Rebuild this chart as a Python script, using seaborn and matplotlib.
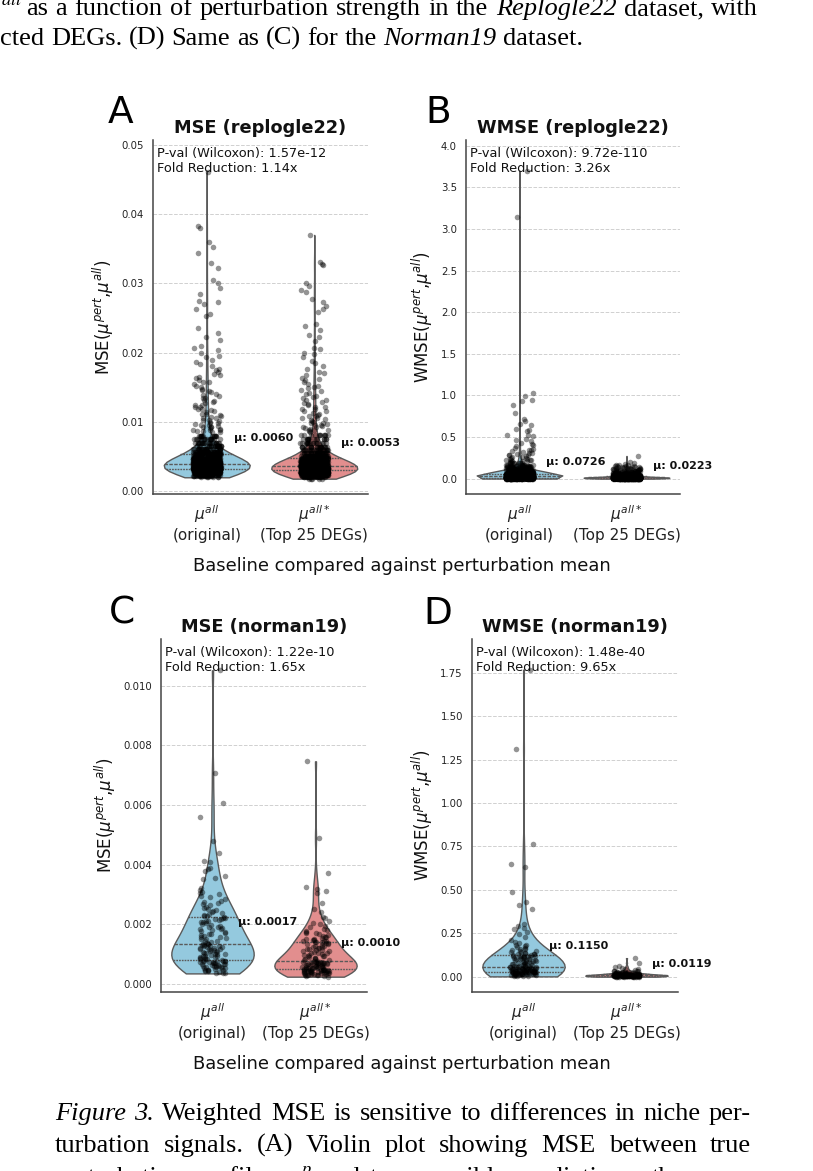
import numpy as np
import pandas as pd
import matplotlib
matplotlib.use("Agg")
import matplotlib.pyplot as plt
import seaborn as sns

W, H = 813, 1171

baselines = ["$\\mu^{all}$\n(original)", "$\\mu^{all*}$\n(Top 25 DEGs)"]
violin_colors = ["skyblue", "lightcoral"]

# replogle22 MSE: dense part read as value/count, sparse points one by one
mse_rep_orig_core = [0.0020, 0.0022, 0.0024, 0.0026, 0.0028, 0.0030, 0.0032, 0.0034, 0.0036, 0.0038,
                     0.0040, 0.0042, 0.0044, 0.0046, 0.0048, 0.0050, 0.0053, 0.0057, 0.0061, 0.0065,
                     0.0070, 0.0075, 0.0080]
mse_rep_orig_count = [6, 14, 28, 45, 62, 75, 80, 78, 72, 66, 58, 52, 46, 40, 35, 30, 40, 32, 26, 22, 20, 16, 13]
mse_rep_orig_tail = [
    0.0461, 0.0383, 0.0380, 0.0360, 0.0352, 0.0344, 0.0330, 0.0322, 0.0305, 0.0300,
    0.0293, 0.0285, 0.0275, 0.0273, 0.0270, 0.0263, 0.0256, 0.0253, 0.0235, 0.0228,
    0.0222, 0.0218, 0.0210, 0.0206, 0.0204, 0.0200, 0.0195, 0.0193, 0.0190, 0.0187,
    0.0183, 0.0181, 0.0177, 0.0175, 0.0172, 0.0169, 0.0168, 0.0165, 0.0163, 0.0161,
    0.0158, 0.0157, 0.0154, 0.0152, 0.0151, 0.0148, 0.0146, 0.0145, 0.0143, 0.0140,
    0.0139, 0.0137, 0.0135, 0.0134, 0.0131, 0.0130, 0.0128, 0.0127, 0.0125, 0.0124,
    0.0122, 0.0121, 0.0119, 0.0118, 0.0117, 0.0115, 0.0114, 0.0112, 0.0111, 0.0110,
    0.0108, 0.0107, 0.0106, 0.0105, 0.0103, 0.0102, 0.0101, 0.0100, 0.0099, 0.0098,
    0.0097, 0.0096, 0.0095, 0.0094, 0.0093, 0.0093, 0.0092, 0.0091, 0.0090, 0.0089,
    0.0089, 0.0088, 0.0087, 0.0087, 0.0086, 0.0085,
]
mse_rep_top_core = [0.0018, 0.0020, 0.0022, 0.0024, 0.0026, 0.0028, 0.0030, 0.0032, 0.0034, 0.0036,
                    0.0038, 0.0040, 0.0042, 0.0044, 0.0046, 0.0048, 0.0051, 0.0055, 0.0059, 0.0064,
                    0.0069, 0.0075, 0.0081]
mse_rep_top_count = [5, 14, 30, 50, 70, 82, 85, 80, 72, 64, 56, 48, 42, 36, 31, 27, 34, 28, 22, 20, 17, 14, 11]
mse_rep_top_tail = [
    0.0370, 0.0331, 0.0328, 0.0326, 0.0301, 0.0296, 0.0291, 0.0288, 0.0277, 0.0273,
    0.0268, 0.0263, 0.0258, 0.0242, 0.0238, 0.0232, 0.0225, 0.0222, 0.0217, 0.0206,
    0.0205, 0.0200, 0.0198, 0.0193, 0.0188, 0.0185, 0.0180, 0.0177, 0.0172, 0.0170,
    0.0167, 0.0164, 0.0162, 0.0160, 0.0157, 0.0155, 0.0152, 0.0150, 0.0149, 0.0146,
    0.0144, 0.0142, 0.0140, 0.0138, 0.0136, 0.0134, 0.0132, 0.0131, 0.0129, 0.0127,
    0.0126, 0.0124, 0.0122, 0.0121, 0.0119, 0.0118, 0.0116, 0.0115, 0.0113, 0.0112,
    0.0110, 0.0109, 0.0108, 0.0106, 0.0105, 0.0104, 0.0102, 0.0101, 0.0100, 0.0099,
    0.0098, 0.0097, 0.0096, 0.0095, 0.0094, 0.0093, 0.0092, 0.0091, 0.0090, 0.0089,
    0.0088, 0.0088, 0.0087, 0.0086,
]

# replogle22 WMSE
wmse_rep_orig_core = [0.002, 0.006, 0.010, 0.014, 0.018, 0.022, 0.027, 0.032, 0.038, 0.044, 0.050, 0.057,
                      0.064, 0.072, 0.080, 0.090, 0.100, 0.112, 0.125, 0.140, 0.155, 0.170, 0.185]
wmse_rep_orig_count = [40, 70, 90, 95, 92, 88, 82, 75, 68, 58, 50, 42, 36, 30, 26, 24, 20, 18, 15, 13, 11, 9, 8]
wmse_rep_orig_tail = [
    3.70, 3.14, 1.03, 0.99, 0.94, 0.93, 0.88, 0.79, 0.72, 0.69, 0.66, 0.64, 0.60, 0.59, 0.57,
    0.53, 0.52, 0.51, 0.48, 0.46, 0.45, 0.43, 0.42, 0.40, 0.39, 0.37, 0.36, 0.35, 0.34, 0.33,
    0.32, 0.31, 0.31, 0.30, 0.29, 0.28, 0.28, 0.27, 0.26, 0.26, 0.25, 0.25, 0.24, 0.24, 0.23,
    0.23, 0.22, 0.22, 0.215, 0.21, 0.21, 0.205, 0.20,
]
wmse_rep_top_core = [0.001, 0.004, 0.007, 0.010, 0.013, 0.016, 0.019, 0.023, 0.027, 0.032, 0.037,
                     0.043, 0.050, 0.058, 0.067, 0.077, 0.088, 0.100, 0.112, 0.125, 0.138]
wmse_rep_top_count = [60, 110, 130, 125, 110, 95, 80, 70, 58, 48, 40, 33, 27, 22, 17, 13, 10, 8, 6, 5, 4]
wmse_rep_top_tail = [0.273, 0.205, 0.19, 0.175, 0.17, 0.165, 0.16, 0.155, 0.152, 0.15, 0.148, 0.145, 0.142]

# norman19 MSE
mse_nor_orig = [
    0.00035, 0.00038, 0.00038, 0.00041, 0.00042, 0.00044, 0.00045, 0.00047, 0.00048, 0.00048,
    0.00050, 0.00052, 0.00053, 0.00053, 0.00055, 0.00056, 0.00058, 0.00059, 0.00060, 0.00061,
    0.00061, 0.00063, 0.00064, 0.00066, 0.00066, 0.00067, 0.00069, 0.00070, 0.00071, 0.00072,
    0.00072, 0.00074, 0.00075, 0.00076, 0.00076, 0.00077, 0.00077,
    0.00078, 0.00080, 0.00082, 0.00083, 0.00084, 0.00087, 0.00087, 0.00089, 0.00091, 0.00092,
    0.00094, 0.00095, 0.00096, 0.00099, 0.00099, 0.00101, 0.00103, 0.00105, 0.00106, 0.00107,
    0.00110, 0.00111, 0.00112, 0.00114, 0.00116, 0.00117, 0.00118, 0.00121, 0.00121, 0.00122,
    0.00124, 0.00126, 0.00127, 0.00128, 0.00130, 0.00131, 0.00132, 0.00133,
    0.00135, 0.00138, 0.00141, 0.00143, 0.00145, 0.00149, 0.00150, 0.00153, 0.00157, 0.00158,
    0.00161, 0.00164, 0.00166, 0.00168, 0.00171, 0.00175, 0.00177, 0.00179, 0.00183, 0.00184,
    0.00187, 0.00191, 0.00192, 0.00195, 0.00198, 0.00200, 0.00203, 0.00206, 0.00207, 0.00211,
    0.00212, 0.00214, 0.00217, 0.00218, 0.00220, 0.00222, 0.00224,
    0.00226, 0.00229, 0.00231, 0.00235, 0.00237, 0.00241, 0.00243, 0.00247, 0.00250, 0.00255,
    0.00258, 0.00263, 0.00266, 0.00271, 0.00275, 0.00279, 0.00286, 0.00290, 0.00296, 0.00300,
    0.00303, 0.00308, 0.00316, 0.00322, 0.00350, 0.00356, 0.00362, 0.00378, 0.00385, 0.00390,
    0.00408, 0.00412, 0.00438, 0.00480, 0.00560, 0.00605, 0.00708, 0.01051,
]
mse_nor_top = [
    0.00024, 0.00026, 0.00027, 0.00028, 0.00029, 0.00030, 0.00031, 0.00031, 0.00032, 0.00033,
    0.00034, 0.00034, 0.00035, 0.00036, 0.00036, 0.00037, 0.00038, 0.00038, 0.00039, 0.00039,
    0.00040, 0.00041, 0.00041, 0.00042, 0.00042, 0.00043, 0.00043, 0.00044, 0.00044, 0.00045,
    0.00045, 0.00046, 0.00046, 0.00046, 0.00047, 0.00047, 0.00047,
    0.00048, 0.00049, 0.00050, 0.00050, 0.00051, 0.00052, 0.00053, 0.00053, 0.00054, 0.00055,
    0.00056, 0.00057, 0.00057, 0.00058, 0.00059, 0.00060, 0.00061, 0.00061, 0.00062, 0.00063,
    0.00064, 0.00064, 0.00065, 0.00066, 0.00067, 0.00067, 0.00068, 0.00069, 0.00069, 0.00070,
    0.00071, 0.00071, 0.00072, 0.00072, 0.00073, 0.00073, 0.00074, 0.00074,
    0.00076, 0.00078, 0.00079, 0.00081, 0.00083, 0.00084, 0.00087, 0.00088, 0.00089, 0.00092,
    0.00093, 0.00094, 0.00097, 0.00098, 0.00099, 0.00102, 0.00103, 0.00105, 0.00106, 0.00109,
    0.00110, 0.00112, 0.00113, 0.00116, 0.00117, 0.00119, 0.00120, 0.00123, 0.00124, 0.00126,
    0.00128, 0.00130, 0.00132, 0.00134, 0.00136, 0.00137, 0.00139,
    0.00140, 0.00141, 0.00142, 0.00143, 0.00145, 0.00146, 0.00148, 0.00150, 0.00152, 0.00154,
    0.00156, 0.00158, 0.00160, 0.00163, 0.00166, 0.00169, 0.00172, 0.00175, 0.00178, 0.00181,
    0.00185, 0.00190, 0.00195, 0.00200, 0.00205, 0.00212, 0.00220, 0.00224, 0.00240, 0.00252,
    0.00272, 0.00305, 0.00312, 0.00318, 0.00325, 0.00372, 0.00490, 0.00746,
]

# norman19 WMSE
wmse_nor_orig = [
    0.0020, 0.0035, 0.0050, 0.0062, 0.0075, 0.0085, 0.0095, 0.0105, 0.0115, 0.0125,
    0.0132, 0.0140, 0.0148, 0.0155, 0.0162, 0.0170, 0.0176, 0.0183, 0.0190, 0.0196,
    0.0202, 0.0208, 0.0214, 0.0220, 0.0226, 0.0231, 0.0236, 0.0241, 0.0246, 0.0251,
    0.0256, 0.0261, 0.0266, 0.0271, 0.0276, 0.0281, 0.0287,
    0.0292, 0.0298, 0.0305, 0.0312, 0.0318, 0.0325, 0.0331, 0.0338, 0.0344, 0.0350,
    0.0356, 0.0362, 0.0368, 0.0375, 0.0381, 0.0388, 0.0395, 0.0402, 0.0410, 0.0418,
    0.0425, 0.0433, 0.0440, 0.0448, 0.0456, 0.0464, 0.0472, 0.0480, 0.0488, 0.0496,
    0.0505, 0.0514, 0.0523, 0.0532, 0.0541, 0.0550, 0.0560, 0.0568,
    0.0580, 0.0595, 0.0610, 0.0626, 0.0642, 0.0658, 0.0675, 0.0692, 0.0710, 0.0728,
    0.0746, 0.0765, 0.0784, 0.0803, 0.0822, 0.0842, 0.0862, 0.0882, 0.0902, 0.0922,
    0.0942, 0.0962, 0.0982, 0.1002, 0.1022, 0.1042, 0.1062, 0.1080, 0.1098, 0.1115,
    0.1132, 0.1148, 0.1164, 0.1180, 0.1195, 0.1208, 0.1220,
    0.123, 0.126, 0.128, 0.130, 0.132, 0.135, 0.138, 0.140, 0.143, 0.146,
    0.150, 0.153, 0.157, 0.161, 0.165, 0.170, 0.175, 0.180, 0.185, 0.192,
    0.200, 0.210, 0.228, 0.248, 0.255, 0.272, 0.282, 0.290, 0.302, 0.390,
    0.410, 0.430, 0.490, 0.630, 0.650, 0.765, 1.310, 1.767,
]
wmse_nor_top = [
    0.0004, 0.0006, 0.0007, 0.0009, 0.0010, 0.0011, 0.0012, 0.0012, 0.0014, 0.0015,
    0.0016, 0.0016, 0.0018, 0.0019, 0.0020, 0.0021, 0.0021, 0.0023, 0.0024, 0.0025,
    0.0026, 0.0026, 0.0028, 0.0029, 0.0030, 0.0031, 0.0032, 0.0032, 0.0034, 0.0035,
    0.0036, 0.0037, 0.0038, 0.0039, 0.0040, 0.0041, 0.0042, 0.0044, 0.0045, 0.0046,
    0.0047, 0.0048, 0.0050, 0.0051, 0.0052, 0.0053, 0.0055, 0.0056, 0.0057, 0.0058,
    0.0060, 0.0061, 0.0062, 0.0064, 0.0065, 0.0066, 0.0068, 0.0069, 0.0070, 0.0072,
    0.0073, 0.0075, 0.0076, 0.0078, 0.0079, 0.0081, 0.0082, 0.0084, 0.0086, 0.0087,
    0.0089, 0.0091, 0.0093, 0.0095, 0.0097, 0.0099, 0.0101, 0.0103, 0.0105, 0.0107,
    0.0110, 0.0112, 0.0114, 0.0117, 0.0119, 0.0122, 0.0124, 0.0127, 0.0130, 0.0133,
    0.0136, 0.0139, 0.0142, 0.0145, 0.0148, 0.0152, 0.0155, 0.0159, 0.0163, 0.0167,
    0.0171, 0.0175, 0.0180, 0.0185, 0.0190, 0.0195, 0.0200, 0.0206, 0.0212, 0.0218,
    0.0225, 0.0232, 0.0240, 0.0248, 0.0256, 0.0265, 0.0275, 0.0285, 0.0296, 0.0308,
    0.0320, 0.0335, 0.0350, 0.0380, 0.0420, 0.0450, 0.0500, 0.0560, 0.0620, 0.0800,
    0.1070,
]

# means printed on the chart
means_rep_mse = [0.0060, 0.0053]
means_rep_wmse = [0.0726, 0.0223]
means_nor_mse = [0.0017, 0.0010]
means_nor_wmse = [0.1150, 0.0119]

stats_rep_mse = "P-val (Wilcoxon): 1.57e-12\nFold Reduction: 1.14x"
stats_rep_wmse = "P-val (Wilcoxon): 9.72e-110\nFold Reduction: 3.26x"
stats_nor_mse = "P-val (Wilcoxon): 1.22e-10\nFold Reduction: 1.65x"
stats_nor_wmse = "P-val (Wilcoxon): 1.48e-40\nFold Reduction: 9.65x"


def expand(core, count, tail):
    return np.concatenate([np.repeat(core, count), tail])


def draw_panel(ax, orig, top, means, stats, title, metric):
    df = pd.DataFrame({
        "baseline": [baselines[0]] * len(orig) + [baselines[1]] * len(top),
        "value": np.concatenate([orig, top]),
    })
    sns.violinplot(data=df, x="baseline", y="value", hue="baseline", palette=violin_colors,
                   legend=False, inner="quart", cut=0, density_norm="width",
                   linewidth=1, linecolor="#5a5a5a", ax=ax)
    sns.stripplot(data=df, x="baseline", y="value", color="black", alpha=0.42, size=4,
                  jitter=0.13, linewidth=0, ax=ax)
    ytop = df["value"].max() * 1.1
    ax.set_ylim(top=ytop)
    for i, m in enumerate(means):
        ax.text(i + 0.25, m + 0.032 * ytop, f"μ: {m:.4f}", fontsize=8,
                fontweight="bold", va="center", ha="left")
    ax.text(0.02, 0.98, stats, transform=ax.transAxes, va="top", ha="left", fontsize=9.3)
    ax.set_title(title, fontsize=12.8, fontweight="bold", pad=5)
    ax.set_ylabel(metric + r"($\mu^{pert}$,$\mu^{all}$)", fontsize=12)
    ax.set_xlabel("")
    ax.grid(axis="y", linestyle="--", color="#d0d0d0", linewidth=0.7)
    ax.set_axisbelow(True)
    ax.tick_params(axis="y", labelsize=7.3, length=3, color="#444444")
    ax.tick_params(axis="x", labelsize=11, length=3.5, color="#444444")
    sns.despine(ax=ax)
    for s in ("left", "bottom"):
        ax.spines[s].set_color("#444444")
        ax.spines[s].set_linewidth(1.1)


def caption_line(fig, words, x0, y_px, size, x1=None):
    r = fig.canvas.get_renderer()
    texts, widths = [], []
    for w, style in words:
        t = fig.text(0, 0, w, fontsize=size, family="Liberation Serif", style=style,
                     va="baseline", ha="left", math_fontfamily="stix", color="black")
        texts.append(t)
        widths.append(t.get_window_extent(r).width)
    gap = size * fig.dpi / 72 * 0.25
    if x1 is not None and len(words) > 1:
        gap = (x1 - x0 - sum(widths)) / (len(words) - 1)
    x = x0
    for t, wd in zip(texts, widths):
        t.set_position((x / W, 1 - y_px / H))
        x += wd + gap


def words(s, style="normal"):
    return [(w, style) for w in s.split()]


sns.set_style("white")
plt.rcParams.update({"text.color": "#111111", "axes.labelcolor": "#111111",
                     "xtick.color": "#222222", "ytick.color": "#222222"})
fig = plt.figure(figsize=(W / 100, H / 100), dpi=100)

# axes boxes in pixels: left, top, right, bottom
boxes = {"A": (153, 140, 368, 494), "B": (466, 140, 680, 494),
         "C": (161, 639, 367, 992), "D": (472, 639, 678, 992)}
axs = {}
for k, (l, t, r, b) in boxes.items():
    axs[k] = fig.add_axes([l / W, 1 - b / H, (r - l) / W, (b - t) / H])

np.random.seed(3)
draw_panel(axs["A"], expand(mse_rep_orig_core, mse_rep_orig_count, mse_rep_orig_tail),
           expand(mse_rep_top_core, mse_rep_top_count, mse_rep_top_tail),
           means_rep_mse, stats_rep_mse, "MSE (replogle22)", "MSE")
draw_panel(axs["B"], expand(wmse_rep_orig_core, wmse_rep_orig_count, wmse_rep_orig_tail),
           expand(wmse_rep_top_core, wmse_rep_top_count, wmse_rep_top_tail),
           means_rep_wmse, stats_rep_wmse, "WMSE (replogle22)", "WMSE")
draw_panel(axs["C"], np.array(mse_nor_orig), np.array(mse_nor_top),
           means_nor_mse, stats_nor_mse, "MSE (norman19)", "MSE")
draw_panel(axs["D"], np.array(wmse_nor_orig), np.array(wmse_nor_top),
           means_nor_wmse, stats_nor_wmse, "WMSE (norman19)", "WMSE")

# panel letters
for k, (x, y) in {"A": (108, 123), "B": (425, 123), "C": (109, 624), "D": (423, 624)}.items():
    fig.text(x / W, 1 - y / H, k, fontsize=27, va="baseline", ha="left", color="black")

for y in (566, 1064):
    fig.text(402 / W, 1 - y / H, "Baseline compared against perturbation mean",
             fontsize=12.9, ha="center", va="center")

# surrounding caption text of the page
cap = 19
fig.text(23 / W, 1 - 15 / H, r"$\mu^{all}$", fontsize=cap, ha="right", va="baseline",
         math_fontfamily="stix", color="black")
caption_line(fig, words("as a function of perturbation strength in the") + [("Replogle22", "italic")]
             + words("dataset, with"), 26, 15, cap, x1=758)
caption_line(fig, words("cted DEGs. (D) Same as (C) for the") + [("Norman19", "italic")]
             + words("dataset."), 0, 45, cap)
caption_line(fig, [("Figure", "italic"), ("3.", "italic")]
             + words("Weighted MSE is sensitive to differences in niche per-"), 55, 1120, cap, x1=751)
caption_line(fig, words("turbation signals. (A) Violin plot showing MSE between true"), 55, 1152, cap, x1=751)
caption_line(fig, words("perturbation profiles") + [(r"$\mu^p$", "normal")]
             + words("and two possible predictions: the mean"), 55, 1184, cap, x1=751)

fig.savefig("out.png", dpi=100)
